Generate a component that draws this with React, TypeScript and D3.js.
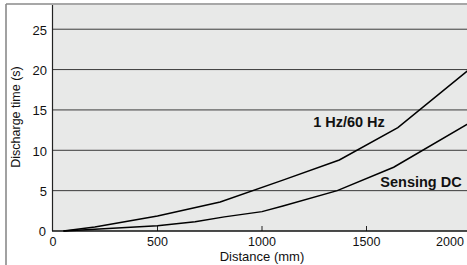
import React from "react";
import * as d3 from "d3";

const distances1 = [50, 200, 500, 800, 1100, 1370, 1650, 2000];
const hz60 = [0, 0.5, 1.85, 3.6, 6.3, 8.8, 12.8, 20.2];
const distances2 = [50, 500, 680, 820, 1000, 1100, 1360, 1630, 2000];
const sensingDC = [0, 0.65, 1.15, 1.75, 2.4, 3.1, 5.0, 7.9, 13.5];
const xTicks = [0, 500, 1000, 1500, 2000];
const yTicks = [0, 5, 10, 15, 20, 25];
const seriesLabels = ["1 Hz/60 Hz", "Sensing DC"];

const W = 467;
const H = 265;

export default function App() {
  const x = d3.scaleLinear().domain([0, 2000]).range([53, 471]);
  const y = d3.scaleLinear().domain([0, 28]).range([231, 5]);
  const line = d3
    .line<[number, number]>()
    .x((d) => x(d[0]))
    .y((d) => y(d[1]));
  const s1 = distances1.map((d, i) => [d, hz60[i]] as [number, number]);
  const s2 = distances2.map((d, i) => [d, sensingDC[i]] as [number, number]);
  const font = "'Liberation Sans', Arial, Helvetica, sans-serif";

  return (
    <svg
      width={W}
      height={H}
      style={{ position: "absolute", left: 0, top: 0, background: "#fff" }}
      fontFamily={font}
    >
      {/* outer frame */}
      <line x1={6} x2={W} y1={4} y2={4} stroke="#8a8a8a" strokeWidth={1.6} />
      <line x1={6} x2={6} y1={4} y2={H} stroke="#8a8a8a" strokeWidth={1.6} />
      {/* plot bg */}
      <rect x={x(0) - 1} y={y(28)} width={W - x(0) + 1} height={y(0) - y(28)} fill="#e8e9e8" />
      {/* gridlines */}
      {yTicks
        .filter((t) => t > 0)
        .map((t) => (
          <line key={t} x1={x(0)} x2={W} y1={y(t)} y2={y(t)} stroke="#3a3a3a" strokeWidth={1} />
        ))}
      {/* x ticks */}
      {xTicks
        .filter((t) => t > 0)
        .map((t) => (
          <line key={t} x1={x(t)} x2={x(t)} y1={y(0) - 5} y2={y(0)} stroke="#222" strokeWidth={1} />
        ))}
      {/* axes */}
      <line x1={x(0) - 0.5} x2={x(0) - 0.5} y1={y(28)} y2={y(0)} stroke="#222" strokeWidth={1.2} />
      <line x1={x(0) - 1} x2={W} y1={y(0)} y2={y(0)} stroke="#111" strokeWidth={1.5} />
      {/* series */}
      <path d={line(s1) || ""} fill="none" stroke="#000" strokeWidth={1.5} />
      <path d={line(s2) || ""} fill="none" stroke="#000" strokeWidth={1.5} />
      {/* y tick labels */}
      {yTicks.map((t) => (
        <text
          key={t}
          x={t === 0 ? 46 : 47}
          y={y(t) + 2}
          textAnchor="end"
          dominantBaseline="middle"
          fontSize={13}
          fill="#111"
        >
          {t}
        </text>
      ))}
      {/* x tick labels */}
      {xTicks.map((t) => (
        <text
          key={t}
          x={t === 2000 ? 450 : x(t)}
          y={246}
          textAnchor="middle"
          fontSize={12.5}
          fill="#111"
        >
          {t}
        </text>
      ))}
      {/* axis titles */}
      <text
        transform={`translate(20,117) rotate(-90)`}
        textAnchor="middle"
        fontSize={12.5}
        fill="#111"
      >
        Discharge time (s)
      </text>
      <text x={262} y={261} textAnchor="middle" fontSize={13} fill="#111">
        Distance (mm)
      </text>
      {/* series labels */}
      <text x={349} y={127} textAnchor="middle" fontSize={14.5} fontWeight="bold" fill="#111">
        {seriesLabels[0]}
      </text>
      <text x={421} y={187} textAnchor="middle" fontSize={14.5} fontWeight="bold" fill="#111">
        {seriesLabels[1]}
      </text>
    </svg>
  );
}
